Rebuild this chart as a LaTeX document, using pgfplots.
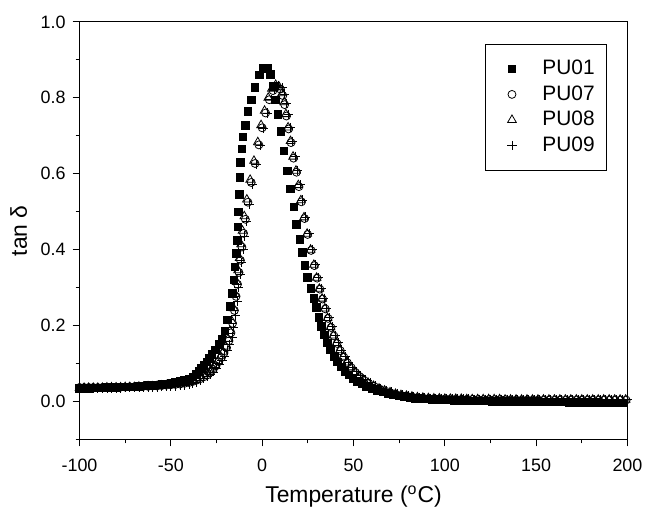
\documentclass[border=0pt]{standalone}
\usepackage{fontspec}
\setmainfont{Liberation Sans}
\usepackage{pgfplots}
\pgfplotsset{compat=1.18}
\begin{document}
\begin{tikzpicture}
\begin{axis}[
  scale only axis,
  width=275.5pt, height=210pt,
  xmin=-100, xmax=200, ymin=-0.1, ymax=1.0,
  xtick={-100,-50,...,200},
  minor xtick={-75,-25,...,175},
  ytick={0,0.2,...,1.0},
  minor ytick={-0.1,0.1,0.3,0.5,0.7,0.9},
  tick align=outside, tick pos=left,
  major tick length=3.5pt, minor tick length=2pt,
  axis line style={line width=0.6pt},
  every tick/.style={black, line width=0.6pt},
  /pgf/number format/assume math mode=true,
  yticklabel style={/pgf/number format/.cd, fixed, fixed zerofill, precision=1},
  xticklabel style={yshift=-2.8pt},
  ticklabel style={font=\fontsize{9}{10}\selectfont},
  xlabel={Temperature (\textsuperscript{o}C)},
  ylabel={tan δ},
  label style={font=\fontsize{11.5}{13}\selectfont},
  legend style={at={(0.963,0.948)}, anchor=north east, draw=black, line width=0.6pt,
    font=\fontsize{10.5}{12}\selectfont, row sep=0pt, inner xsep=4pt, inner ysep=6pt,
    /tikz/every odd column/.append style={column sep=11pt}},
  legend image code/.code={\path (-0.5pt,0pt);
    \draw[mark repeat=2,mark phase=2,#1] plot coordinates {(0cm,0cm) (0.3cm,0cm) (0.6cm,0cm)};},
  legend cell align=left,
]
\addplot[only marks, mark=square*, mark size=1.9pt, black] coordinates {
(-100,0.035)(-97.5,0.035)(-95,0.035)(-92.5,0.036)(-90,0.036)(-87.5,0.036)(-85,0.037)(-82.5,0.037)
(-80,0.037)(-77.5,0.038)(-75,0.038)(-72.5,0.039)(-70,0.039)(-67.5,0.040)(-65,0.041)(-62.5,0.042)
(-60,0.043)(-57.5,0.044)(-55,0.045)(-52.5,0.047)(-50,0.048)(-47.5,0.050)(-45,0.053)(-42.5,0.056)
(-40,0.060)(-38,0.065)(-36.3,0.072)(-34.7,0.080)(-33.2,0.087)(-31.8,0.095)(-30.3,0.104)(-29.0,0.114)
(-27.5,0.124)(-25.6,0.136)(-23.5,0.150)(-22,0.165)(-20.5,0.186)(-19,0.215)(-17.5,0.250)(-16.4,0.285)
(-15.6,0.320)(-14.9,0.355)(-14.2,0.390)(-13.7,0.425)(-13.3,0.460)(-13.0,0.500)(-12.6,0.545)(-12.2,0.590)
(-11.8,0.630)(-11.2,0.665)(-10.5,0.697)(-9.3,0.728)(-7.7,0.764)(-5.8,0.795)(-3.9,0.827)(-1.5,0.860)
(0.3,0.877)(2.8,0.877)(4.6,0.862)(6.1,0.830)(7.3,0.795)(8.5,0.757)(10.2,0.712)(11.8,0.660)
(13.7,0.608)(15.4,0.560)(17.3,0.513)(18.8,0.466)(20.6,0.427)(22.0,0.393)(23.5,0.359)(24.9,0.327)
(26.6,0.298)(28.2,0.272)(29.6,0.248)(31.0,0.222)(32.4,0.198)(34.0,0.176)(35.7,0.155)(37.5,0.136)
(39.4,0.119)(41.3,0.104)(43.3,0.091)(45.3,0.080)(47.4,0.070)(49.6,0.061)(52,0.053)(54.5,0.046)
(57,0.040)(60,0.034)(63,0.029)(66,0.025)(69,0.021)(72,0.018)(75,0.015)(78,0.013)
(81,0.011)(84,0.009)(87,0.008)(90,0.007)(93,0.006)(96,0.005)(99,0.004)(102,0.004)
(105,0.003)(108,0.003)(111,0.003)(114,0.002)(117,0.002)(120,0.002)(123,0.002)(126,0.001)
(129,0.001)(132,0.001)(135,0.001)(138,0.000)(141,0.000)(144,0.000)(147,0.000)(150,0.000)
(153,-0.001)(156,-0.001)(159,-0.001)(162,-0.001)(165,-0.001)(168,-0.002)(171,-0.002)(174,-0.002)
(177,-0.002)(180,-0.002)(183,-0.002)(186,-0.003)(189,-0.003)(192,-0.003)(195,-0.003)(198,-0.003)
};
\addlegendentry{PU01}
\addplot[only marks, mark=o, mark size=2pt, black, line width=0.4pt, mark options={fill=white}] coordinates {
(-100,0.037)(-97.5,0.037)(-95,0.037)(-92.5,0.037)(-90,0.037)(-87.5,0.037)(-85,0.037)(-82.5,0.038)
(-80,0.038)(-77.5,0.038)(-75,0.038)(-72.5,0.039)(-70,0.039)(-67.5,0.039)(-65,0.040)(-62.5,0.040)
(-60,0.041)(-57.5,0.041)(-55,0.042)(-52.5,0.043)(-50,0.044)(-47.5,0.045)(-45,0.046)(-42.5,0.048)
(-40,0.050)(-38,0.053)(-36,0.056)(-34,0.060)(-32,0.065)(-30,0.070)(-28.3,0.077)(-26.8,0.085)
(-25.3,0.094)(-23.8,0.105)(-22.3,0.116)(-20.9,0.128)(-19.5,0.142)(-18.2,0.160)(-17.1,0.181)(-16.2,0.206)
(-15.2,0.240)(-14.3,0.277)(-13.5,0.309)(-12.7,0.340)(-11.9,0.372)(-11.1,0.407)(-10.2,0.443)(-9.2,0.480)
(-7.8,0.525)(-6.0,0.577)(-3.9,0.627)(-1.8,0.676)(0.0,0.721)(1.9,0.760)(3.9,0.795)(5.9,0.819)
(8.0,0.829)(10.0,0.823)(11.3,0.806)(12.3,0.782)(13.3,0.752)(14.5,0.718)(15.8,0.682)(17.2,0.641)
(18.8,0.604)(20.1,0.566)(21.5,0.526)(23.2,0.482)(24.9,0.440)(26.8,0.398)(28.6,0.358)(30.1,0.325)
(31.6,0.296)(33.1,0.270)(34.6,0.244)(36.1,0.219)(37.7,0.195)(39.3,0.173)(41.0,0.153)(42.8,0.134)
(44.7,0.117)(46.7,0.102)(48.8,0.089)(51,0.077)(53.3,0.066)(55.8,0.056)(58.3,0.048)(61.3,0.040)
(64.3,0.033)(67.3,0.028)(70.3,0.023)(73.3,0.019)(76.3,0.016)(79.3,0.014)(82.3,0.012)(85.3,0.010)
(88.3,0.009)(91.3,0.008)(94.3,0.008)(97.3,0.007)(100.3,0.007)(103.3,0.007)(106.3,0.006)(109.3,0.006)
(112.3,0.006)(115.3,0.006)(118.3,0.005)(121.3,0.005)(124.3,0.005)(127.3,0.005)(130.3,0.005)(133.3,0.005)
(136.3,0.004)(139.3,0.004)(142.3,0.004)(145.3,0.004)(148.3,0.004)(151.3,0.004)(154.3,0.004)(157.3,0.004)
(160.3,0.004)(163.3,0.004)(166.3,0.004)(169.3,0.004)(172.3,0.004)(175.3,0.004)(178.3,0.004)(181.3,0.004)
(184.3,0.004)(187.3,0.004)(190.3,0.004)(193.3,0.004)(196.3,0.004)(199.3,0.004)
};
\addlegendentry{PU07}
\addplot[only marks, mark=triangle, mark size=2.5pt, black, line width=0.4pt, mark options={fill=white}] coordinates {
(-100,0.036)(-97.5,0.036)(-95,0.036)(-92.5,0.036)(-90,0.036)(-87.5,0.036)(-85,0.037)(-82.5,0.037)
(-80,0.037)(-77.5,0.037)(-75,0.038)(-72.5,0.038)(-70,0.038)(-67.5,0.039)(-65,0.039)(-62.5,0.040)
(-60,0.040)(-57.5,0.041)(-55,0.042)(-52.5,0.043)(-50,0.044)(-47.5,0.045)(-45,0.047)(-42.5,0.049)
(-40,0.051)(-38,0.054)(-36,0.058)(-34,0.062)(-32,0.067)(-30.3,0.072)(-28.7,0.079)(-27.2,0.087)
(-25.7,0.096)(-24.2,0.107)(-22.8,0.119)(-21.4,0.131)(-20,0.145)(-18.7,0.165)(-17.6,0.186)(-16.7,0.212)
(-15.7,0.246)(-14.8,0.283)(-14.0,0.315)(-13.2,0.346)(-12.4,0.378)(-11.6,0.414)(-10.8,0.450)(-9.8,0.488)
(-8.4,0.532)(-6.6,0.584)(-4.5,0.634)(-2.4,0.683)(-0.6,0.728)(1.3,0.766)(3.3,0.800)(5.3,0.824)
(7.4,0.834)(9.4,0.828)(10.9,0.812)(12.0,0.788)(13.0,0.757)(14.2,0.722)(15.5,0.686)(16.9,0.645)
(18.5,0.608)(19.8,0.570)(21.2,0.530)(22.9,0.485)(24.6,0.442)(26.5,0.400)(28.3,0.360)(29.8,0.326)
(31.3,0.297)(32.8,0.271)(34.3,0.245)(35.8,0.220)(37.4,0.196)(39.0,0.174)(40.7,0.154)(42.5,0.135)
(44.4,0.118)(46.4,0.103)(48.5,0.090)(50.7,0.078)(53,0.067)(55.5,0.057)(58,0.049)(61,0.041)
(64,0.034)(67,0.029)(70,0.024)(73,0.020)(76,0.017)(79,0.015)(82,0.013)(85,0.011)
(88,0.010)(91,0.009)(94,0.008)(97,0.008)(100,0.007)(103,0.007)(106,0.007)(109,0.007)
(112,0.006)(115,0.006)(118,0.006)(121,0.006)(124,0.006)(127,0.006)(130,0.006)(133,0.005)
(136,0.005)(139,0.005)(142,0.005)(145,0.005)(148,0.005)(151,0.005)(154,0.005)(157,0.005)
(160,0.005)(163,0.005)(166,0.005)(169,0.005)(172,0.005)(175,0.005)(178,0.005)(181,0.005)
(184,0.005)(187,0.005)(190,0.005)(193,0.005)(196,0.005)(199,0.005)
};
\addlegendentry{PU08}
\addplot[only marks, mark=+, mark size=2.3pt, black, line width=0.4pt] coordinates {
(-100,0.034)(-97.5,0.034)(-95,0.034)(-92.5,0.034)(-90,0.034)(-87.5,0.035)(-85,0.035)(-82.5,0.035)
(-80,0.035)(-77.5,0.035)(-75,0.036)(-72.5,0.036)(-70,0.036)(-67.5,0.037)(-65,0.037)(-62.5,0.037)
(-60,0.038)(-57.5,0.038)(-55,0.039)(-52.5,0.040)(-50,0.040)(-47.5,0.041)(-45,0.042)(-42.5,0.043)
(-40,0.045)(-38,0.048)(-36,0.051)(-34,0.055)(-32,0.060)(-30,0.065)(-28.3,0.071)(-26.6,0.078)
(-25,0.087)(-23.5,0.097)(-22,0.108)(-20.6,0.120)(-19.2,0.134)(-17.8,0.150)(-16.5,0.170)(-15.5,0.196)
(-14.5,0.228)(-13.6,0.264)(-12.8,0.300)(-12.0,0.334)(-11.2,0.366)(-10.4,0.400)(-9.6,0.436)(-8.6,0.474)
(-7.2,0.520)(-5.3,0.572)(-3.2,0.624)(-1.0,0.674)(0.9,0.720)(2.8,0.760)(4.8,0.796)(6.8,0.822)
(8.9,0.833)(10.9,0.827)(12.2,0.810)(13.2,0.786)(14.2,0.756)(15.4,0.722)(16.6,0.686)(18.0,0.646)
(19.5,0.609)(20.8,0.571)(22.2,0.531)(23.9,0.486)(25.6,0.443)(27.5,0.401)(29.3,0.361)(30.8,0.327)
(32.3,0.298)(33.8,0.272)(35.3,0.246)(36.8,0.221)(38.4,0.197)(40.0,0.175)(41.7,0.155)(43.5,0.136)
(45.4,0.119)(47.4,0.104)(49.5,0.091)(51.7,0.079)(54,0.068)(56.5,0.058)(59,0.050)(62,0.042)
(65,0.035)(68,0.029)(71,0.025)(74,0.021)(77,0.018)(80,0.015)(83,0.013)(86,0.011)
(89,0.010)(92,0.009)(95,0.008)(98,0.008)(101,0.008)(104,0.007)(107,0.007)(110,0.007)
(113,0.007)(116,0.006)(119,0.006)(122,0.006)(125,0.006)(128,0.006)(131,0.006)(134,0.006)
(137,0.005)(140,0.005)(143,0.005)(146,0.005)(149,0.005)(152,0.005)(155,0.005)(158,0.005)
(161,0.005)(164,0.005)(167,0.005)(170,0.005)(173,0.005)(176,0.005)(179,0.005)(182,0.005)
(185,0.005)(188,0.005)(191,0.005)(194,0.005)(197,0.005)(200,0.005)
};
\addlegendentry{PU09}
\end{axis}
\path ([shift={(-40pt,-33pt)}]current axis.south west) rectangle ([shift={(9pt,11pt)}]current axis.north east);
\end{tikzpicture}
\end{document}
